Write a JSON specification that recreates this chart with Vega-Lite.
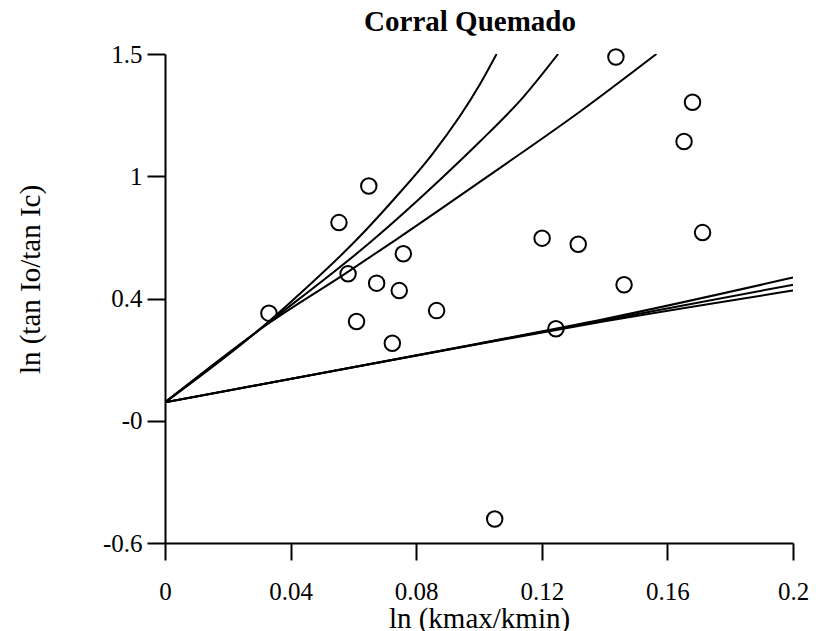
{
  "$schema": "https://vega.github.io/schema/vega-lite/v6.json",
  "width": 628,
  "height": 489,
  "autosize": {"type": "none"},
  "padding": {"left": 165, "top": 54, "right": 23, "bottom": 88},
  "background": "white",
  "title": {
    "text": "Corral Quemado",
    "font": "Liberation Serif",
    "fontSize": 29,
    "fontWeight": "bold",
    "color": "black",
    "anchor": "middle",
    "frame": "group",
    "offset": 5,
    "dx": -9
  },
  "config": {
    "view": {"stroke": null},
    "axis": {
      "domainColor": "black",
      "domainWidth": 2,
      "tickColor": "black",
      "tickWidth": 2,
      "labelColor": "black",
      "labelFont": "Liberation Serif",
      "labelFontSize": 25,
      "labelFlush": false,
      "labelOverlap": false,
      "titleFont": "Liberation Serif",
      "titleFontSize": 29,
      "titleFontWeight": "normal",
      "titleColor": "black",
      "grid": false
    }
  },
  "datasets": {
    "curves": [
      {"curve": "a", "x": 0, "y": 0.004},
      {"curve": "a", "x": 0.0334, "y": 0.355},
      {"curve": "a", "x": 0.044, "y": 0.483},
      {"curve": "a", "x": 0.061, "y": 0.702},
      {"curve": "a", "x": 0.0727, "y": 0.873},
      {"curve": "a", "x": 0.0854, "y": 1.074},
      {"curve": "a", "x": 0.1003, "y": 1.37},
      {"curve": "a", "x": 0.1056, "y": 1.5},
      {"curve": "b", "x": 0, "y": 0.004},
      {"curve": "b", "x": 0.0334, "y": 0.351},
      {"curve": "b", "x": 0.0663, "y": 0.702},
      {"curve": "b", "x": 0.0875, "y": 0.959},
      {"curve": "b", "x": 0.1003, "y": 1.124},
      {"curve": "b", "x": 0.1141, "y": 1.315},
      {"curve": "b", "x": 0.1252, "y": 1.5},
      {"curve": "c", "x": 0, "y": 0.004},
      {"curve": "c", "x": 0.0334, "y": 0.347},
      {"curve": "c", "x": 0.0573, "y": 0.556},
      {"curve": "c", "x": 0.0735, "y": 0.702},
      {"curve": "c", "x": 0.1035, "y": 0.981},
      {"curve": "c", "x": 0.1321, "y": 1.252},
      {"curve": "c", "x": 0.1565, "y": 1.5},
      {"curve": "d", "x": 0, "y": 0.004},
      {"curve": "d", "x": 0.1, "y": 0.257},
      {"curve": "d", "x": 0.14, "y": 0.362},
      {"curve": "d", "x": 0.2, "y": 0.54},
      {"curve": "e", "x": 0, "y": 0.004},
      {"curve": "e", "x": 0.1, "y": 0.256},
      {"curve": "e", "x": 0.14, "y": 0.357},
      {"curve": "e", "x": 0.2, "y": 0.509},
      {"curve": "f", "x": 0, "y": 0.004},
      {"curve": "f", "x": 0.1, "y": 0.255},
      {"curve": "f", "x": 0.14, "y": 0.352},
      {"curve": "f", "x": 0.2, "y": 0.484}
    ],
    "obs": [
      {"x": 0.0331, "y": 0.387},
      {"x": 0.0554, "y": 0.776},
      {"x": 0.0649, "y": 0.933},
      {"x": 0.0583, "y": 0.556},
      {"x": 0.061, "y": 0.351},
      {"x": 0.0674, "y": 0.516},
      {"x": 0.0759, "y": 0.642},
      {"x": 0.0746, "y": 0.484},
      {"x": 0.0724, "y": 0.258},
      {"x": 0.0865, "y": 0.398},
      {"x": 0.105, "y": -0.497},
      {"x": 0.1201, "y": 0.709},
      {"x": 0.1245, "y": 0.32},
      {"x": 0.1316, "y": 0.683},
      {"x": 0.1436, "y": 1.487},
      {"x": 0.1462, "y": 0.509},
      {"x": 0.168, "y": 1.293},
      {"x": 0.1653, "y": 1.124},
      {"x": 0.1712, "y": 0.733}
    ]
  },
  "encoding": {
    "x": {
      "field": "x",
      "type": "quantitative",
      "scale": {"domain": [0, 0.2], "nice": false, "zero": false},
      "axis": {
        "title": "ln (kmax/kmin)",
        "values": [0, 0.04, 0.08, 0.12, 0.16, 0.2],
        "format": "~g",
        "tickSize": 17,
        "labelPadding": 19,
        "titleY": 84,
        "titleBaseline": "alphabetic"
      }
    },
    "y": {
      "field": "y",
      "type": "quantitative",
      "scale": {"domain": [-0.6, 1.5], "nice": false, "zero": false},
      "axis": {
        "title": "ln (tan Io/tan Ic)",
        "values": [-0.6, -0.075, 0.45, 0.975, 1.5],
        "labelExpr": "datum.value > 1.2 ? '1.5' : datum.value > 0.7 ? '1' : datum.value > 0.2 ? '0.4' : datum.value > -0.3 ? '-0' : '-0.6'",
        "tickSize": 18,
        "labelPadding": 5,
        "titleX": -135,
        "titleY": 225,
        "titleAngle": -90,
        "titleAlign": "center",
        "titleBaseline": "middle"
      }
    }
  },
  "layer": [
    {
      "data": {"name": "curves"},
      "mark": {"type": "line", "interpolate": "monotone", "color": "black", "strokeWidth": 2, "clip": true},
      "encoding": {"detail": {"field": "curve", "type": "nominal"}}
    },
    {
      "data": {"name": "obs"},
      "mark": {"type": "point", "shape": "circle", "filled": false, "color": "black", "strokeWidth": 2, "size": 240, "opacity": 1}
    }
  ]
}
